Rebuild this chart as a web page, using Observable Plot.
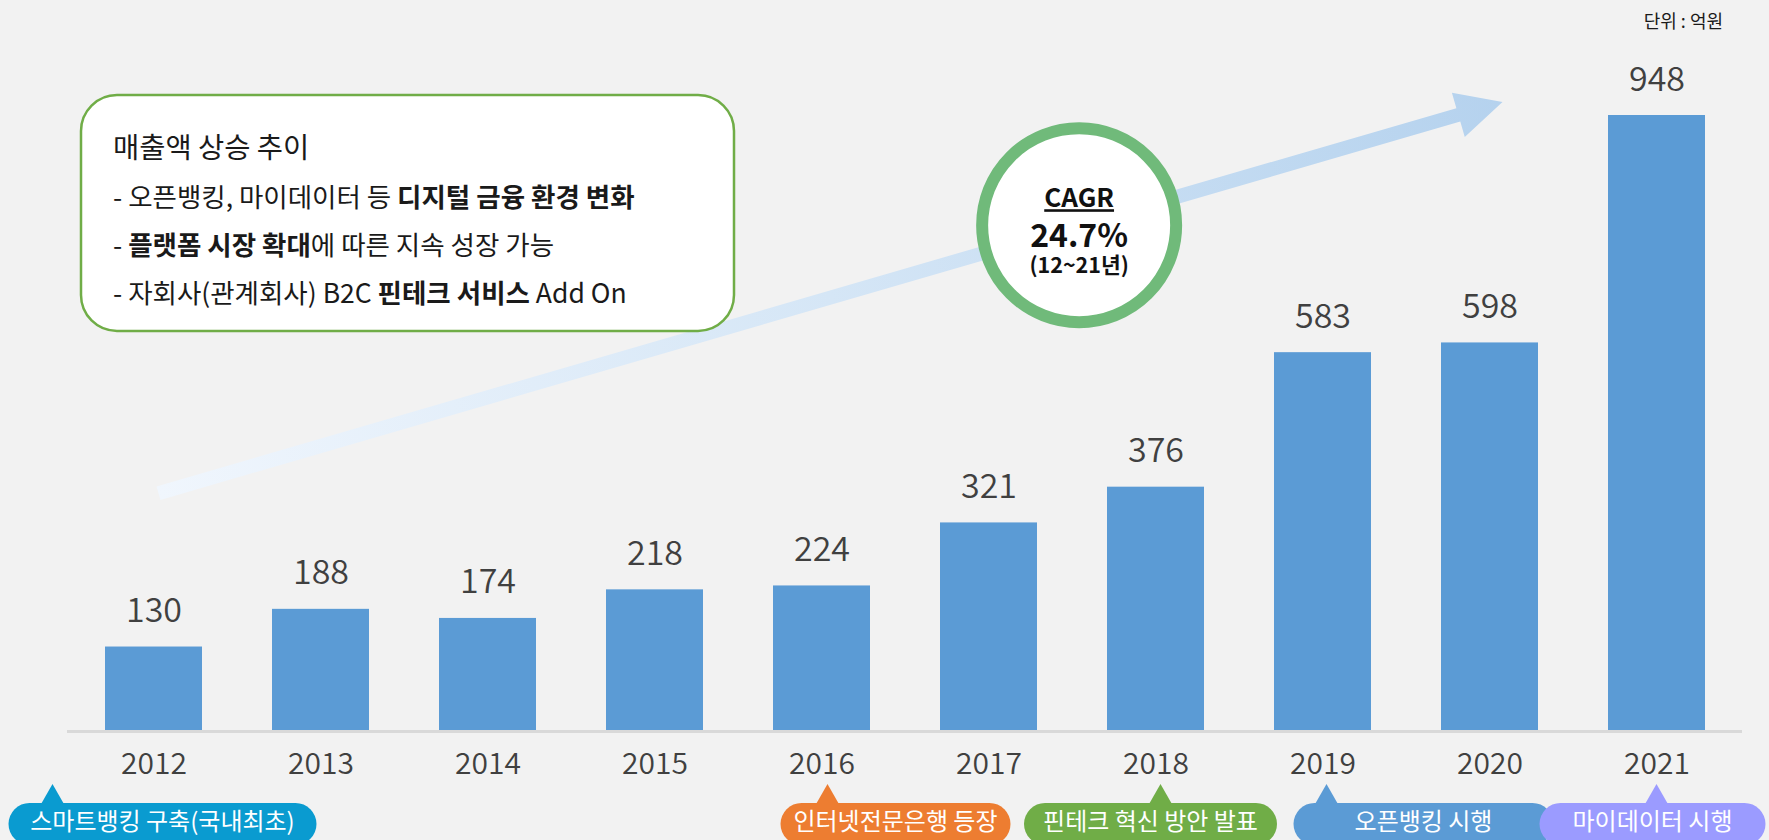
<!DOCTYPE html>
<html><head><meta charset="utf-8">
<script src="https://cdn.jsdelivr.net/npm/d3@7"></script>
<script src="https://cdn.jsdelivr.net/npm/@observablehq/plot@0.6"></script>
<style>
html,body{margin:0;padding:0;background:#f2f2f2;}
#chart{position:relative;width:1769px;height:840px;overflow:hidden;}
svg text{white-space:pre;}
</style></head><body><div id="chart"></div>
<script>
// ---- data ----
const years = ["2012","2013","2014","2015","2016","2017","2018","2019","2020","2021"];
const revenue = [130,188,174,218,224,321,376,583,598,948];
const unitLabel = "단위 : 억원";
const boxTitle = "매출액 상승 추이";
const boxLines = [
  [["- 오픈뱅킹, 마이데이터 등 ", false], ["디지털 금융 환경 변화", true]],
  [["- ", false], ["플랫폼 시장 확대", true], ["에 따른 지속 성장 가능", false]],
  [["- 자회사(관계회사) B2C ", false], ["핀테크 서비스", true], [" Add On", false]]
];
const cagrTitle = "CAGR";
const cagrValue = "24.7%";
const cagrPeriod = "(12~21년)";
const eventYears = ["2012","2016","2018","2019","2021"];
const eventLabels = ["스마트뱅킹 구축(국내최초)","인터넷전문은행 등장","핀테크 혁신 방안 발표","오픈뱅킹 시행","마이데이터 시행"];
// trend arrow anchors (year, value)
const trendStart = {year: "2012", value: 366};
const trendEnd = {year: "2020", value: 968};

// ---- styles / layout ----
const FONT = "'Noto Sans CJK KR','Noto Sans',sans-serif";
const eventColors = ["#0a9bd0","#ed7d31","#70ad47","#5b9bd5","#9b9bff"];
const pillLayout = [ // center offset, width, tip offset relative to band center
  {dx: 9, w: 308, tip: -101},
  {dx: 74, w: 230, tip: 6},
  {dx: -5, w: 253, tip: 5},
  {dx: 101, w: 260, tip: 4},
  {dx: -4, w: 226, tip: 0}
];

const data = years.map((year, i) => ({year, value: revenue[i]}));

function arrowGeom(scales) {
  const x = scales.x, y = scales.y, bw = x.bandwidth();
  const x0 = x(trendStart.year) + bw / 2 + 5, y0 = y(trendStart.value);
  const x1 = x(trendEnd.year) + bw / 2 + 13, y1 = y(trendEnd.value);
  return {x0, y0, x1, y1};
}

const decorBack = (index, scales, values, dims) => {
  const g = d3.create("svg:g");
  const {x0, y0, x1, y1} = arrowGeom(scales);
  const dx = x1 - x0, dy = y1 - y0, L = Math.hypot(dx, dy);
  const ux = dx / L, uy = dy / L, nx = -uy, ny = ux;
  const w = 7, hl = 46, hw = 23;
  const neckX = x1 - ux * hl, neckY = y1 - uy * hl;
  const pts = [
    [x0 + nx * w, y0 + ny * w],
    [neckX + nx * w, neckY + ny * w],
    [neckX + nx * hw, neckY + ny * hw],
    [x1, y1],
    [neckX - nx * hw, neckY - ny * hw],
    [neckX - nx * w, neckY - ny * w],
    [x0 - nx * w, y0 - ny * w]
  ];
  const defs = g.append("defs");
  const grad = defs.append("linearGradient").attr("id", "arrowGrad")
    .attr("gradientUnits", "userSpaceOnUse")
    .attr("x1", x0).attr("y1", y0).attr("x2", x1).attr("y2", y1);
  grad.append("stop").attr("offset", 0).attr("stop-color", "#f0f6fd");
  grad.append("stop").attr("offset", 0.5).attr("stop-color", "#d5e6f6");
  grad.append("stop").attr("offset", 1).attr("stop-color", "#b5d2ee");
  g.append("path").attr("d", "M" + pts.map(p => p.join(",")).join("L") + "Z")
    .attr("fill", "url(#arrowGrad)");
  return g.node();
};

const decorFront = (index, scales, values, dims) => {
  const g = d3.create("svg:g").attr("font-family", FONT);
  const x = scales.x, bw = x.bandwidth();
  const cx = yr => x(yr) + bw / 2;
  // text box
  const bx = dims.marginLeft + 14, by = 95, bW = 653, bH = 236;
  g.append("rect").attr("x", bx).attr("y", by).attr("width", bW).attr("height", bH)
    .attr("rx", 36).attr("ry", 36).attr("fill", "#ffffff")
    .attr("stroke", "#70ad47").attr("stroke-width", 2.5);
  const tx = bx + 32;
  g.append("text").attr("x", tx).attr("y", by + 63).attr("font-size", 28.5)
    .attr("text-anchor", "start").attr("fill", "#1a1a1a").text(boxTitle);
  boxLines.forEach((segs, i) => {
    const t = g.append("text").attr("x", tx).attr("y", by + 112 + i * 48)
      .attr("text-anchor", "start").attr("font-size", 26.5).attr("fill", "#1a1a1a");
    segs.forEach(([s, b]) => t.append("tspan").attr("font-weight", b ? 700 : 400).text(s));
  });
  // CAGR circle on the arrow
  const {x0, y0, x1, y1} = arrowGeom(scales);
  const t = 0.685;
  const ccx = x0 + (x1 - x0) * t, ccy = y0 + (y1 - y0) * t;
  g.append("circle").attr("cx", ccx).attr("cy", ccy).attr("r", 97)
    .attr("fill", "#ffffff").attr("stroke", "#70ba7a").attr("stroke-width", 12);
  g.append("text").attr("x", ccx).attr("y", ccy - 18).attr("text-anchor", "middle")
    .attr("font-size", 26).attr("font-weight", 700).attr("fill", "#111")
    .attr("text-decoration", "underline").text(cagrTitle);
  g.append("text").attr("x", ccx).attr("y", ccy + 22).attr("text-anchor", "middle")
    .attr("font-size", 32).attr("font-weight", 700).attr("fill", "#111").text(cagrValue);
  g.append("text").attr("x", ccx).attr("y", ccy + 48).attr("text-anchor", "middle")
    .attr("font-size", 21.5).attr("font-weight", 700).attr("fill", "#111").text(cagrPeriod);
  // unit
  g.append("text").attr("x", dims.width - 46).attr("y", 28).attr("text-anchor", "end")
    .attr("font-size", 18).attr("fill", "#1a1a1a").text(unitLabel);
  // event pills
  const pillTop = dims.height - 37, pillH = 42;
  eventYears.forEach((yr, i) => {
    const L = pillLayout[i], c = cx(yr), col = eventColors[i];
    const pc = c + L.dx, tipX = c + L.tip;
    g.append("path").attr("d", `M${tipX - 12},${pillTop + 2}L${tipX},${pillTop - 19}L${tipX + 12},${pillTop + 2}Z`).attr("fill", col);
    g.append("rect").attr("x", pc - L.w / 2).attr("y", pillTop).attr("width", L.w).attr("height", pillH)
      .attr("rx", 21).attr("ry", 21).attr("fill", col);
    g.append("text").attr("x", pc).attr("y", pillTop + 27).attr("text-anchor", "middle")
      .attr("font-size", 24).attr("fill", "#ffffff").text(eventLabels[i]);
  });
  return g.node();
};

const plot = Plot.plot({
  width: 1769, height: 840,
  marginLeft: 67, marginRight: 27, marginTop: 115, marginBottom: 109,
  style: {background: "transparent", fontFamily: FONT, overflow: "visible"},
  x: {domain: years, paddingInner: 0.42, paddingOuter: 0.21, axis: null},
  y: {domain: [0, 948], axis: null},
  marks: [
    decorBack,
    Plot.barY(data, {x: "year", y: "value", fill: "#5b9bd5"}),
    Plot.ruleY([0], {stroke: "#d9d9d9", strokeWidth: 3}),
    Plot.text(data, {x: "year", y: "value", text: d => String(d.value), dy: -25, lineAnchor: "bottom",
      fontSize: 34, fontWeight: 350, fill: "#404040"}),
    Plot.text(years, {x: d => d, frameAnchor: "bottom", dy: 42, lineAnchor: "bottom",
      fontSize: 30, fontWeight: 350, fill: "#404040"}),
    decorFront
  ]
});
document.getElementById("chart").appendChild(plot);
</script></body></html>
